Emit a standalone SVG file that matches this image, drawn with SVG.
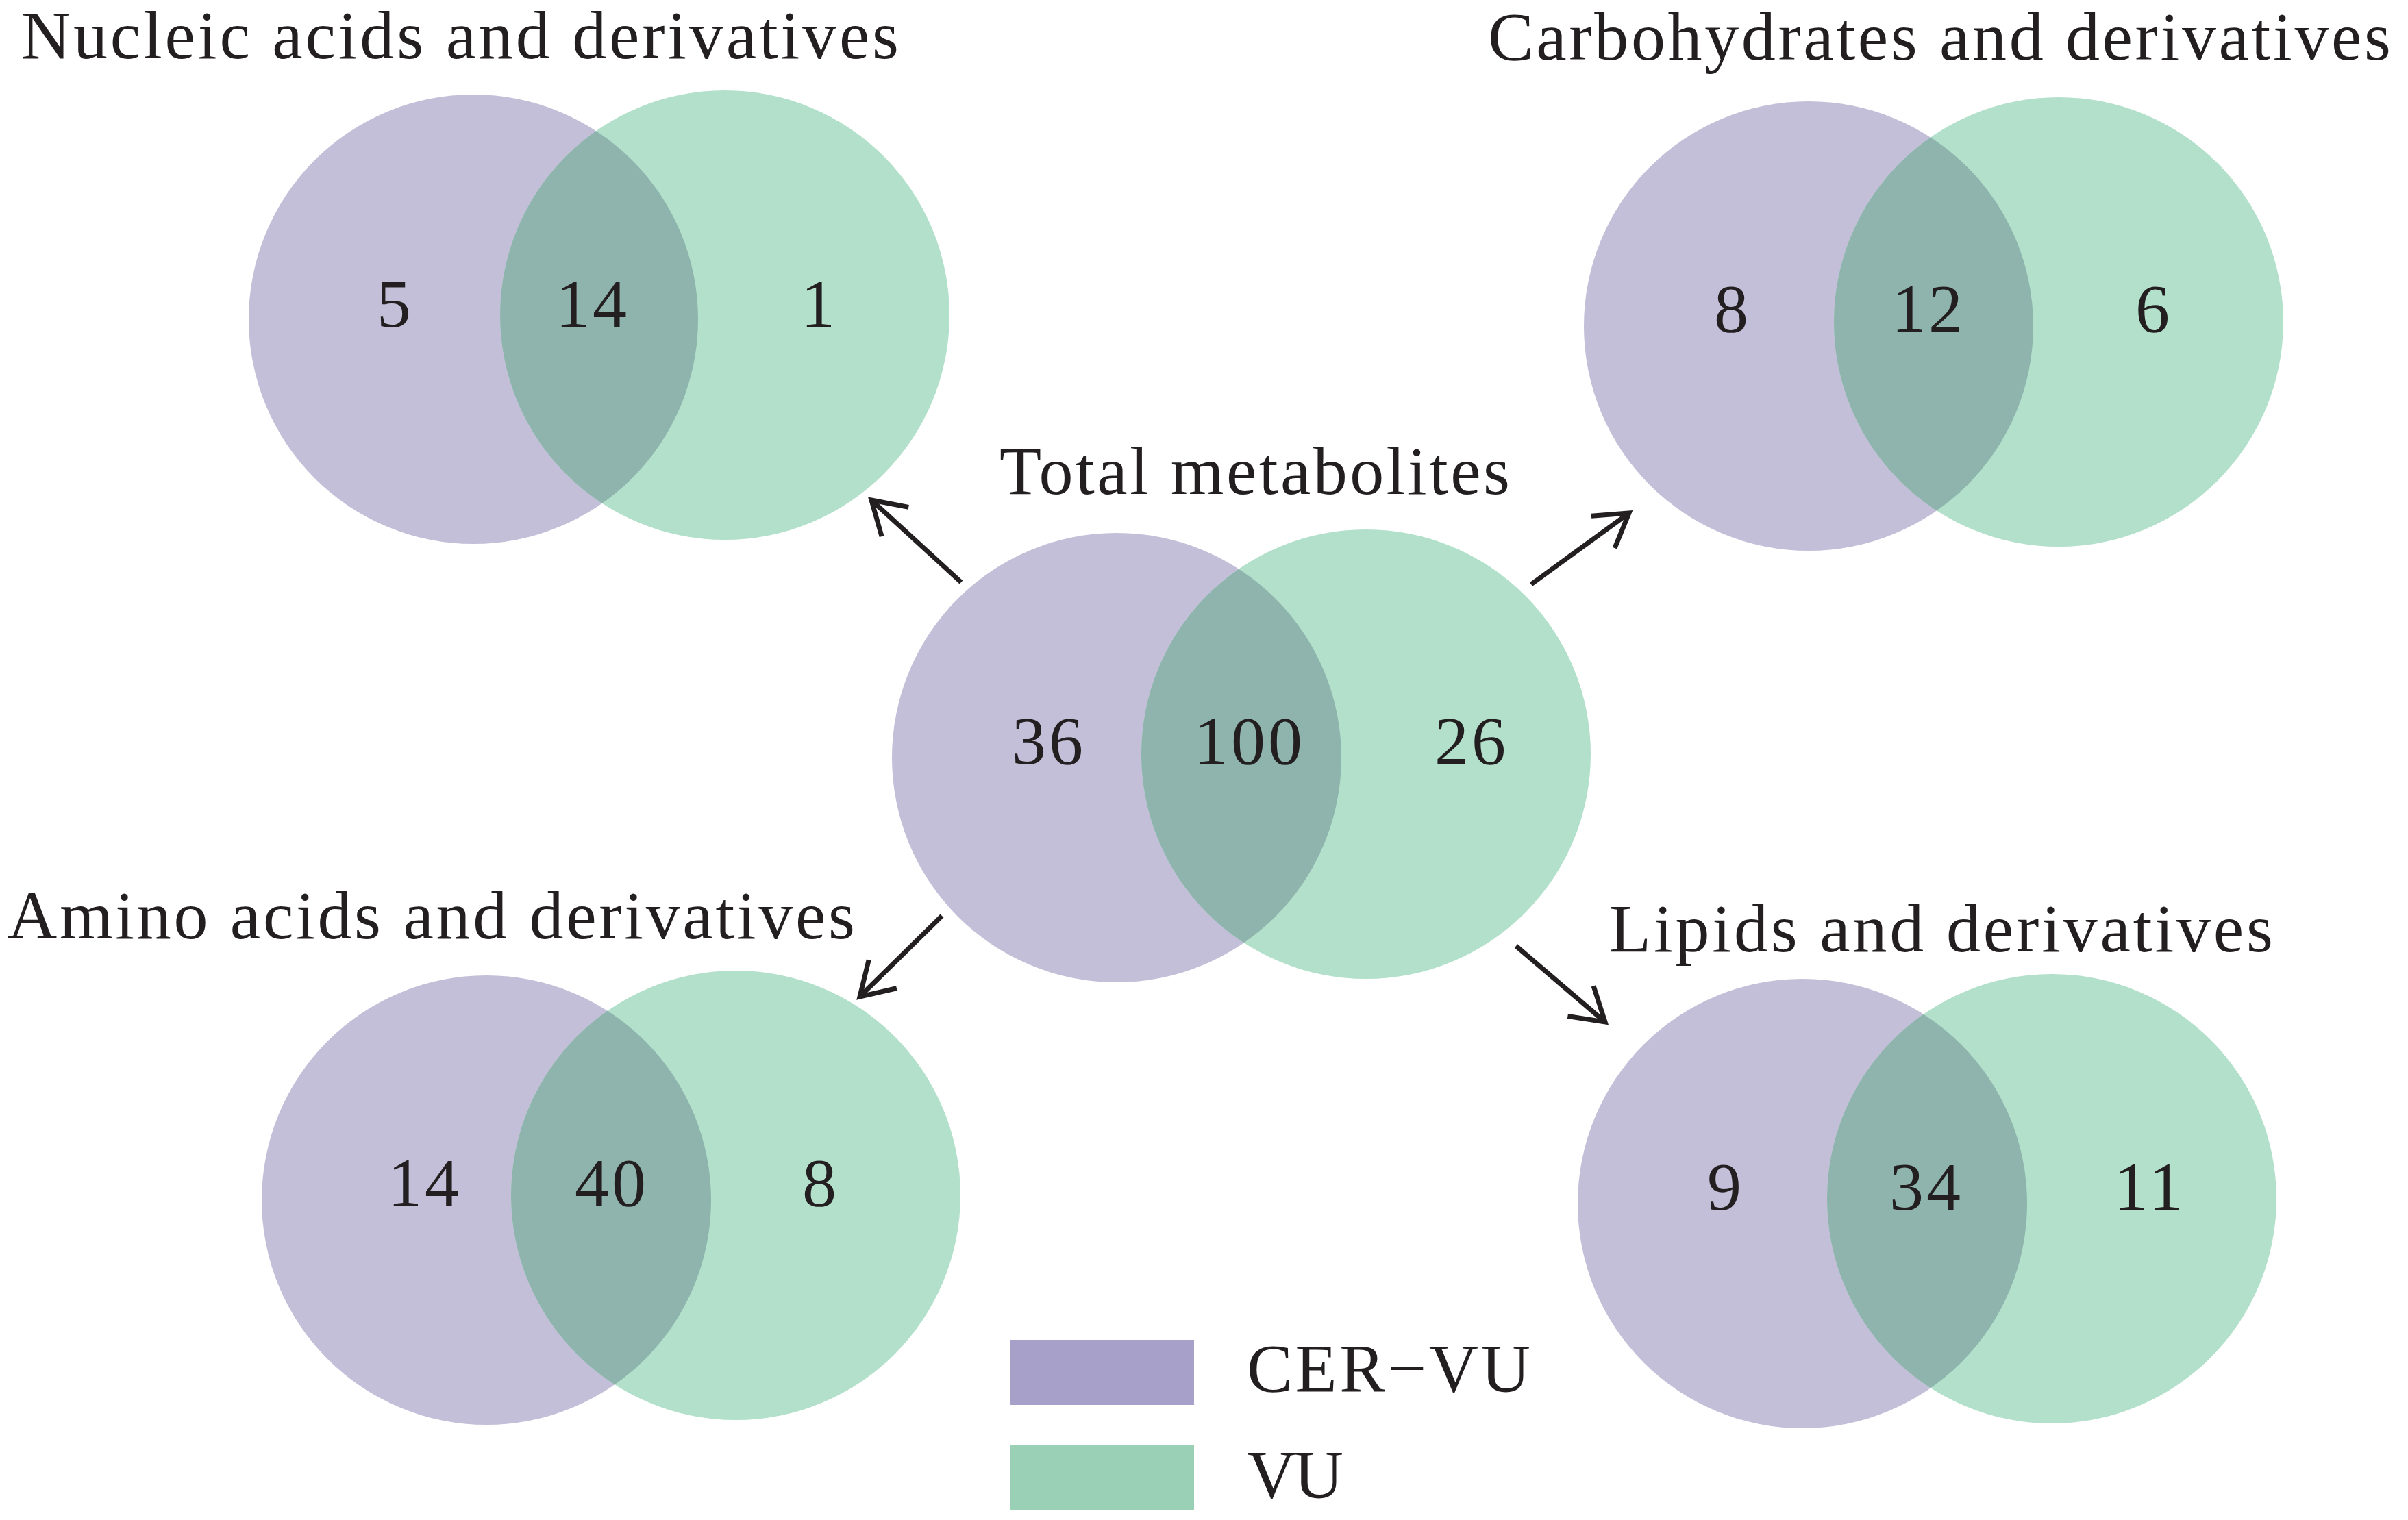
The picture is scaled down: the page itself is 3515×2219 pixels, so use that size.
<svg xmlns="http://www.w3.org/2000/svg" width="3515" height="2219" viewBox="0 0 3515 2219">
<style>
.p{fill:#C4BFD8}
.g{fill:#B3E0CB}
.o{fill:#8EB4AD}
text{font-family:"Liberation Serif","Times New Roman",serif;font-size:100px;fill:#231F20}
.n{text-anchor:middle;letter-spacing:4px}
.c{fill:none;stroke:#231F20;stroke-width:7}
</style>
<defs>
<marker id="ah" markerUnits="userSpaceOnUse" markerWidth="120" markerHeight="120" refX="0" refY="0" viewBox="-60 -60 120 120" orient="auto" overflow="visible">
<path d="M-47,-29 L0,0 L-47,29" fill="none" stroke="#231F20" stroke-width="7" stroke-linejoin="miter"/>
</marker>
<clipPath id="c1"><circle cx="691" cy="466" r="328"/></clipPath>
<clipPath id="c2"><circle cx="2640" cy="476" r="328"/></clipPath>
<clipPath id="c3"><circle cx="1630" cy="1106" r="328"/></clipPath>
<clipPath id="c4"><circle cx="710" cy="1752" r="328"/></clipPath>
<clipPath id="c5"><circle cx="2631" cy="1757" r="328"/></clipPath>
</defs>
<rect width="3515" height="2219" fill="#fff"/>

<g id="nucleic">
<circle class="p" cx="691" cy="466" r="328"/>
<circle class="g" cx="1058" cy="460" r="328"/>
<circle class="o" cx="1058" cy="460" r="328" clip-path="url(#c1)"/>
<text x="31" y="85" textLength="1281" lengthAdjust="spacing">Nucleic acids and derivatives</text>
<text class="n" x="577" y="477">5</text>
<text class="n" x="865" y="477">14</text>
<text class="n" x="1196" y="477">1</text>
</g>

<g id="carbohydrates">
<circle class="p" cx="2640" cy="476" r="328"/>
<circle class="g" cx="3005" cy="470" r="328"/>
<circle class="o" cx="3005" cy="470" r="328" clip-path="url(#c2)"/>
<text x="2172" y="87" textLength="1318" lengthAdjust="spacing">Carbohydrates and derivatives</text>
<text class="n" x="2529" y="484">8</text>
<text class="n" x="2815" y="484">12</text>
<text class="n" x="3144" y="484">6</text>
</g>

<g id="total">
<circle class="p" cx="1630" cy="1106" r="328"/>
<circle class="g" cx="1994" cy="1101" r="328"/>
<circle class="o" cx="1994" cy="1101" r="328" clip-path="url(#c3)"/>
<text x="1459" y="721" textLength="745" lengthAdjust="spacing">Total metabolites</text>
<text class="n" x="1531" y="1115">36</text>
<text class="n" x="1824" y="1115">100</text>
<text class="n" x="2148" y="1115">26</text>
</g>

<g id="amino">
<circle class="p" cx="710" cy="1752" r="328"/>
<circle class="g" cx="1074" cy="1745" r="328"/>
<circle class="o" cx="1074" cy="1745" r="328" clip-path="url(#c4)"/>
<text x="11" y="1370" textLength="1237" lengthAdjust="spacing">Amino acids and derivatives</text>
<text class="n" x="620" y="1760">14</text>
<text class="n" x="893" y="1760">40</text>
<text class="n" x="1198" y="1760">8</text>
</g>

<g id="lipids">
<circle class="p" cx="2631" cy="1757" r="328"/>
<circle class="g" cx="2995" cy="1750" r="328"/>
<circle class="o" cx="2995" cy="1750" r="328" clip-path="url(#c5)"/>
<text x="2349" y="1389" textLength="969" lengthAdjust="spacing">Lipids and derivatives</text>
<text class="n" x="2519" y="1766">9</text>
<text class="n" x="2812" y="1766">34</text>
<text class="n" x="3138" y="1766">11</text>
</g>

<g id="legend">
<rect x="1475" y="1956" width="268" height="95" fill="#A7A0C9"/>
<rect x="1475" y="2110" width="268" height="94" fill="#9AD1B6"/>
<text x="1820" y="2031" textLength="414" lengthAdjust="spacing">CER−VU</text>
<text x="1820" y="2186" textLength="141" lengthAdjust="spacing">VU</text>
</g>

<g id="connectors">
<line class="c" x1="1403" y1="850" x2="1272" y2="730" marker-end="url(#ah)"/>
<line class="c" x1="2235" y1="853" x2="2378" y2="749" marker-end="url(#ah)"/>
<line class="c" x1="1375" y1="1337" x2="1255" y2="1455" marker-end="url(#ah)"/>
<line class="c" x1="2213" y1="1381" x2="2343" y2="1492" marker-end="url(#ah)"/>
</g>
</svg>
